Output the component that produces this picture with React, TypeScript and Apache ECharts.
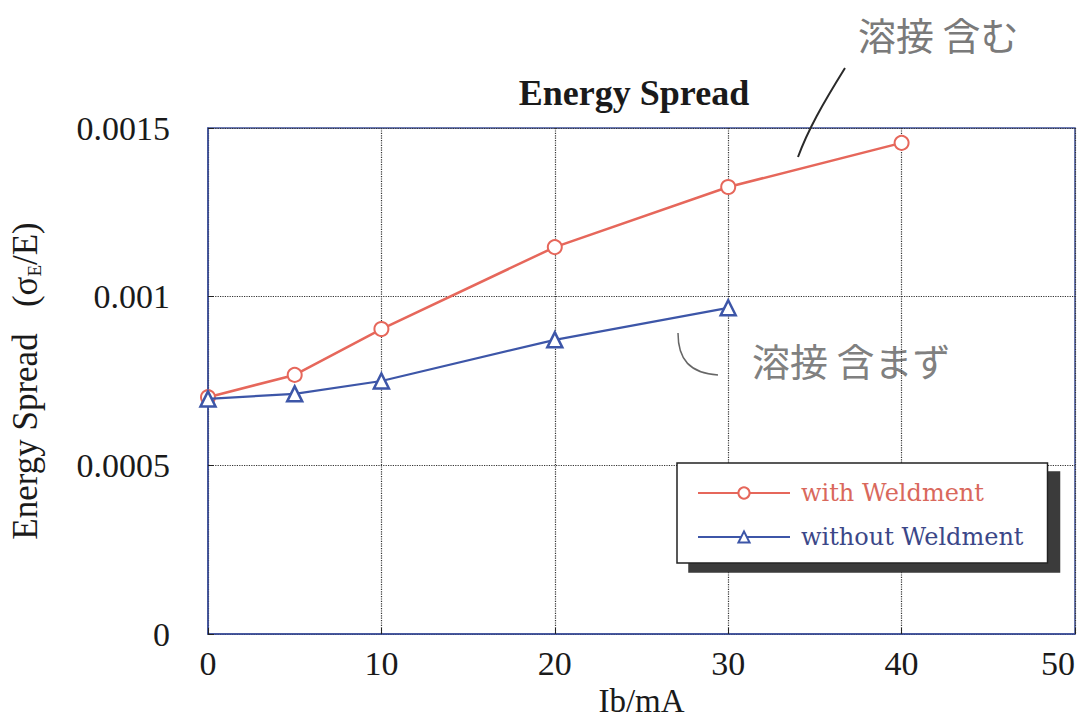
import React, { useEffect, useRef } from "react";
import * as echarts from "echarts";

const xTicks = [0, 10, 20, 30, 40, 50];
const currents = [0, 5, 10, 20, 30, 40];
const withWeldment = [0.000702, 0.000768, 0.000904, 0.001147, 0.001325, 0.001456];
const currentsWithout = [0, 5, 10, 20, 30];
const withoutWeldment = [0.000697, 0.000712, 0.00075, 0.000872, 0.000967];
const yTicks = [0, 0.0005, 0.001, 0.0015];

const RED = "#e6675b";
const BLUE = "#3d56a8";

export default function App() {
  const ref = useRef<HTMLDivElement>(null);
  useEffect(() => {
    if (!ref.current) return;
    const chart = echarts.init(ref.current, null, { renderer: "svg" });
    const serif = "'Liberation Serif', 'Times New Roman', serif";
    chart.setOption({
      animation: false,
      backgroundColor: "#ffffff",
      title: {
        text: "Energy Spread",
        left: 629,
        top: 70,
        textAlign: "center",
        textStyle: { fontFamily: serif, fontWeight: "bold", fontSize: 36, color: "#1a1a1a" },
      },
      grid: {
        left: 208,
        right: 9,
        top: 128,
        bottom: 91,
        containLabel: false,
        outerBoundsMode: "none",
        show: true,
        borderColor: "#3c4f9a",
        borderWidth: 1.5,
        backgroundColor: "transparent",
      },
      legend: {
        orient: "vertical",
        left: 677,
        top: 463,
        padding: [18, 24, 14, 20],
        itemWidth: 92,
        itemHeight: 14,
        itemGap: 20,
        backgroundColor: "#ffffff",
        borderColor: "#222",
        borderWidth: 1.5,
        shadowColor: "#3a3a3a",
        shadowBlur: 0,
        shadowOffsetX: 12,
        shadowOffsetY: 9,
        textStyle: { fontFamily: "'DejaVu Serif', serif", fontSize: 24, padding: [0, 0, 0, 6] },
        data: [
          { name: "with Weldment", textStyle: { color: "#d9685c" } },
          { name: "without Weldment", textStyle: { color: "#3b4788" } },
        ],
      },
      xAxis: {
        type: "value",
        min: xTicks[0],
        max: xTicks[xTicks.length - 1],
        interval: 10,
        name: "Ib/mA",
        nameLocation: "middle",
        nameGap: 50,
        nameTextStyle: { fontFamily: serif, fontSize: 33, color: "#1a1a1a" },
        axisLine: { show: true, lineStyle: { color: "#3c4f9a", width: 1.5 } },
        axisTick: { show: true, inside: true, length: 6, lineStyle: { color: "#222" } },
        axisLabel: {
          fontFamily: serif,
          fontSize: 34,
          color: "#1a1a1a",
          margin: 12,
          alignMaxLabel: "right",
        },
        splitLine: { show: true, lineStyle: { type: "dotted", color: "#333", width: 1.2 } },
      },
      yAxis: {
        type: "value",
        min: yTicks[0],
        max: yTicks[yTicks.length - 1],
        interval: 0.0005,
        name: "Energy Spread   (σ{sub|E}/E)",
        nameLocation: "middle",
        nameRotate: 90,
        nameGap: 164,
        nameTextStyle: {
          fontFamily: serif,
          fontSize: 35,
          color: "#1a1a1a",
          rich: {
            sub: { fontFamily: serif, fontSize: 19, color: "#1a1a1a", padding: [18, 0, 0, 0] },
          },
        },
        axisLine: { show: true, lineStyle: { color: "#3c4f9a", width: 1.5 } },
        axisTick: { show: true, inside: true, length: 6, lineStyle: { color: "#222" } },
        axisLabel: {
          fontFamily: serif,
          fontSize: 34,
          color: "#1a1a1a",
          margin: 38,
          formatter: (v: number) => String(yTicks.find((t) => Math.abs(t - v) < 1e-9) ?? v),
        },
        splitLine: { show: true, lineStyle: { type: "dotted", color: "#333", width: 1.2 } },
      },
      series: [
        {
          name: "with Weldment",
          type: "line",
          data: currents.map((x, i) => [x, withWeldment[i]]),
          symbol: "circle",
          symbolSize: 14,
          lineStyle: { color: RED, width: 2.5 },
          itemStyle: { color: "#ffffff", borderColor: RED, borderWidth: 2 },
          z: 3,
        },
        {
          name: "without Weldment",
          type: "line",
          data: currentsWithout.map((x, i) => [x, withoutWeldment[i]]),
          symbol: "triangle",
          symbolSize: 15,
          lineStyle: { color: BLUE, width: 2.2 },
          itemStyle: { color: "#ffffff", borderColor: BLUE, borderWidth: 2.5 },
          z: 4,
        },
      ],
      graphic: [
        {
          type: "text",
          left: 858,
          top: 14,
          style: {
            text: "溶接 含む",
            fontFamily: "'Noto Sans CJK JP', sans-serif",
            fontSize: 38,
            fill: "#7a7a7a",
            fontWeight: "normal",
          },
        },
        {
          type: "bezierCurve",
          shape: { x1: 845, y1: 68, x2: 798, y2: 157, cpx1: 822, cpy1: 105, cpx2: 808, cpy2: 130 },
          style: { stroke: "#2a2a2a", lineWidth: 2, fill: "none" },
        },
        {
          type: "text",
          left: 752,
          top: 340,
          style: {
            text: "溶接 含まず",
            fontFamily: "'Noto Sans CJK JP', sans-serif",
            fontSize: 38,
            fill: "#808080",
          },
        },
        {
          type: "bezierCurve",
          shape: { x1: 678, y1: 333, x2: 718, y2: 375, cpx1: 678, cpy1: 360, cpx2: 690, cpy2: 373 },
          style: { stroke: "#666", lineWidth: 1.5, fill: "none" },
        },
      ],
    });
    return () => chart.dispose();
  }, []);
  return (
    <div
      ref={ref}
      style={{ position: "fixed", left: 0, top: 0, width: 1084, height: 725, background: "#fff" }}
    />
  );
}
